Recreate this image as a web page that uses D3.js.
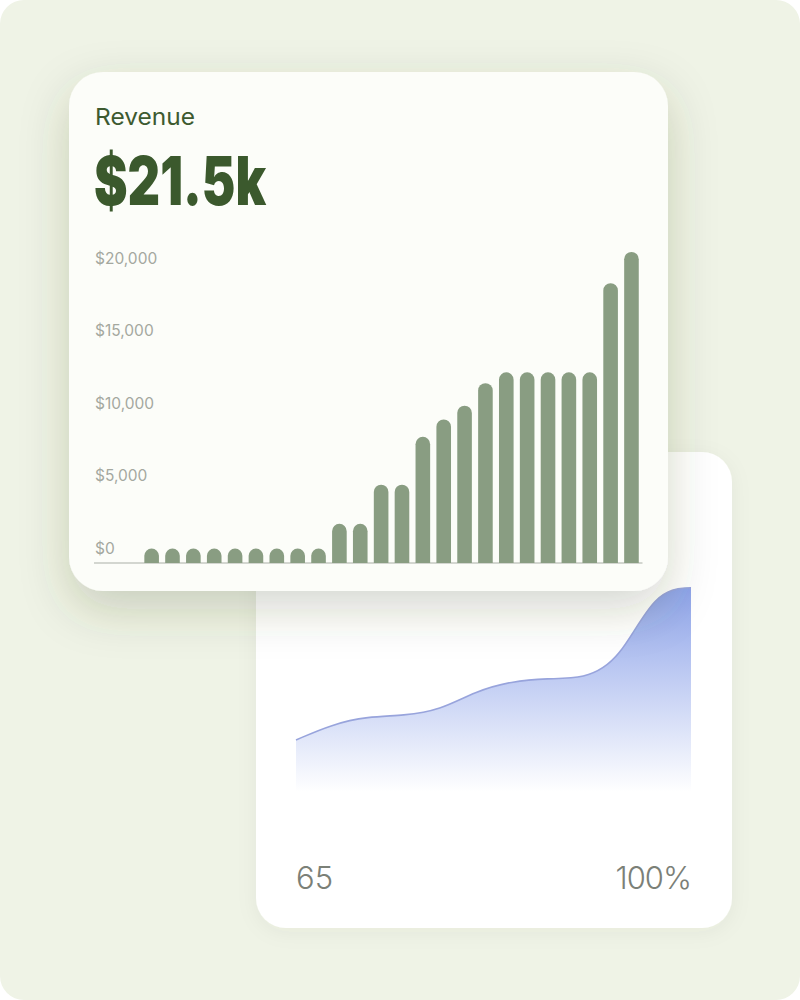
<!DOCTYPE html>
<html>
<head>
<meta charset="utf-8">
<script src="https://cdn.jsdelivr.net/npm/d3@7/dist/d3.min.js"></script>
<style>
  html, body { margin: 0; padding: 0; background: #ffffff; }
  svg { display: block; }
  text { font-family: "Inter", "Noto Sans", sans-serif; }
</style>
</head>
<body>
<div id="chart"></div>
<script>
// ---------- DATA ----------
const title = "Revenue";
const headline = "$21.5k";
const barCategories = d3.range(1, 25).map(i => "P" + i);
const barValues = [1000, 1000, 1000, 1000, 1000, 1000, 1000, 1000, 1000,
                   2700, 2700, 5400, 5400, 8700, 9900, 10850, 12400,
                   13150, 13150, 13150, 13150, 13150, 19300, 21450];
const yTicks = [0, 5000, 10000, 15000, 20000];

const areaIndex = d3.range(0, 12);
const areaValues = [65, 68.6, 70.4, 70.6, 71.8, 76.2, 78.5, 79.2, 79.0, 83.0, 99.5, 100];
const areaLabels = ["65", "100%"];

// ---------- SVG ----------
const W = 800, H = 1000;
const svg = d3.select("#chart").append("svg").attr("width", W).attr("height", H);
const defs = svg.append("defs");

const sh1 = defs.append("filter").attr("id", "shTop")
  .attr("x", "-30%").attr("y", "-30%").attr("width", "160%").attr("height", "170%");
sh1.append("feDropShadow").attr("dx", 0).attr("dy", 18).attr("stdDeviation", 24)
  .attr("flood-color", "#3c4a28").attr("flood-opacity", 0.22);

const sh2 = defs.append("filter").attr("id", "shBot")
  .attr("x", "-20%").attr("y", "-20%").attr("width", "140%").attr("height", "140%");
sh2.append("feDropShadow").attr("dx", 0).attr("dy", 4).attr("stdDeviation", 10)
  .attr("flood-color", "#3c4a28").attr("flood-opacity", 0.05);

const grad = defs.append("linearGradient").attr("id", "areaGrad")
  .attr("gradientUnits", "userSpaceOnUse")
  .attr("x1", 0).attr("x2", 0).attr("y1", 587).attr("y2", 792);
grad.append("stop").attr("offset", 0).attr("stop-color", "#8da3e9").attr("stop-opacity", 1);
grad.append("stop").attr("offset", 1).attr("stop-color", "#8da3e9").attr("stop-opacity", 0);

// page background
svg.append("rect").attr("x", 0).attr("y", 0).attr("width", W).attr("height", H)
  .attr("rx", 24).attr("fill", "#eff3e6");

// ---------- bottom card (area chart) ----------
svg.append("rect").attr("x", 256).attr("y", 452).attr("width", 476).attr("height", 476)
  .attr("rx", 30).attr("fill", "#ffffff").attr("filter", "url(#shBot)");

const ax = d3.scalePoint().domain(areaIndex).range([296, 691]);
const ay = d3.scaleLinear().domain([65, 100]).range([740, 587.7]);
const baseVal = 53;

const area = d3.area()
  .x((d, i) => ax(areaIndex[i]))
  .y0(ay(baseVal))
  .y1(d => ay(d))
  .curve(d3.curveBasis);
const line = d3.line()
  .x((d, i) => ax(areaIndex[i]))
  .y(d => ay(d))
  .curve(d3.curveBasis);

svg.append("path").datum(areaValues).attr("d", area).attr("fill", "url(#areaGrad)");
svg.append("path").datum(areaValues).attr("d", line)
  .attr("fill", "none").attr("stroke", "#98a4dc").attr("stroke-width", 1.6);

svg.append("text").attr("x", 296).attr("y", 889).text(areaLabels[0])
  .attr("font-size", 31).attr("font-weight", 300).attr("fill", "#7b8077");
svg.append("text").attr("x", 691).attr("y", 889).attr("text-anchor", "end").text(areaLabels[1])
  .attr("font-size", 31).attr("font-weight", 300).attr("fill", "#7b8077")
  .attr("letter-spacing", -1);

// ---------- top card (bar chart) ----------
svg.append("rect").attr("x", 69).attr("y", 72).attr("width", 599).attr("height", 519)
  .attr("rx", 34).attr("fill", "#fcfdf9").attr("filter", "url(#shTop)");

svg.append("text").attr("x", 95).attr("y", 125).text(title)
  .attr("font-size", 23).attr("font-weight", 400).attr("fill", "#3d5a30")
  .attr("textLength", 100).attr("lengthAdjust", "spacingAndGlyphs");

svg.append("text").attr("x", 94).attr("y", 205).text(headline)
  .attr("font-family", "Roboto, Inter, sans-serif")
  .attr("font-size", 67).attr("font-weight", 900).attr("fill", "#3b592d")
  .attr("textLength", 172).attr("lengthAdjust", "spacingAndGlyphs");

const x = d3.scaleBand().domain(barCategories).range([141.2, 641.9])
  .paddingInner(0.3).paddingOuter(0.15);
const y = d3.scaleLinear().domain([0, 20000]).range([563, 273]);

// y tick labels (sit just above tick position)
svg.append("g").selectAll("text").data(yTicks).join("text")
  .attr("x", 95).attr("y", d => y(d) - 9.5)
  .attr("font-size", 15.5).attr("fill", "#a4a89f")
  .text(d => "$" + d3.format(",")(d));

// baseline
svg.append("line").attr("x1", 94).attr("x2", 642.5).attr("y1", y(0)).attr("y2", y(0))
  .attr("stroke", "#c6c9c2").attr("stroke-width", 1.5);

// bars with rounded tops
function barPath(d, i) {
  const x0 = x(barCategories[i]);
  const w = x.bandwidth();
  const r = w / 2;
  const yT = y(d), yB = y(0);
  return `M${x0},${yB}L${x0},${yT + r}A${r},${r} 0 0 1 ${x0 + w},${yT + r}L${x0 + w},${yB}Z`;
}
svg.append("g").selectAll("path").data(barValues).join("path")
  .attr("d", barPath).attr("fill", "#899d82");
</script>
</body>
</html>
